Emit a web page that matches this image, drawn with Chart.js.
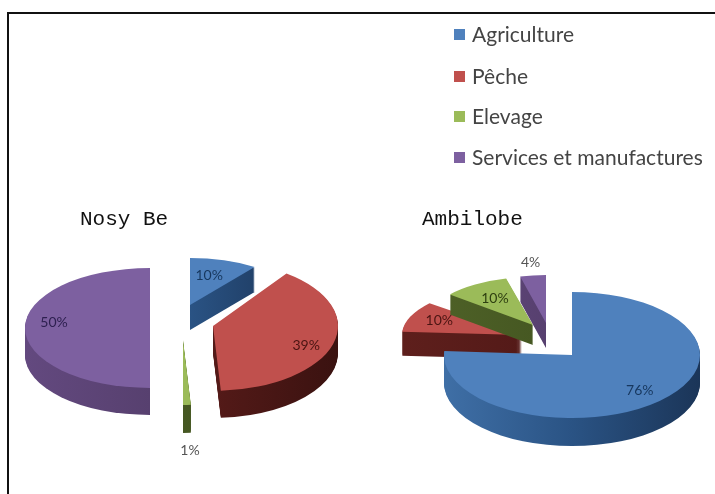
<!DOCTYPE html>
<html><head><meta charset="utf-8">
<script src="https://cdn.jsdelivr.net/npm/chart.js@4"></script>
<style>
html,body{margin:0;padding:0;background:#fff;overflow:hidden;width:715px;height:494px}
#frame{position:absolute;left:7px;top:12px;width:708px;height:482px;border-left:2px solid #111;border-top:2px solid #111;box-sizing:border-box}
canvas{position:absolute;top:0}
#wrap{position:absolute;left:0;top:0;width:715px;height:494px;filter:blur(.6px)}
#legend{position:absolute;left:454px;top:0;font-family:Lato,sans-serif;font-size:21px;color:#444;white-space:nowrap}
#legend div{position:absolute;left:18px;line-height:24px}
#legend i{position:absolute;left:-18px;top:7px;width:11px;height:11px}
</style></head><body>
<div id="wrap">
<div id="frame"></div>
<div style="position:absolute;left:0;top:0;width:360px;height:494px"><canvas id="c1"></canvas></div>
<div style="position:absolute;left:360px;top:0;width:355px;height:494px"><canvas id="c2"></canvas></div>
<div id="legend"></div>
</div>
<script>
// ---- data ----
const categories = ['Agriculture', 'Pêche', 'Elevage', 'Services et manufactures'];
const nosyBeValues = [10, 39, 1, 50];
const ambilobeValues = [76, 10, 10, 4];
const nosyBeTitle = 'Nosy Be';
const ambilobeTitle = 'Ambilobe';

// ---- styles ----
const topColors = ['#4f81bd', '#c0504d', '#9bbb59', '#7d60a0'];
const sideStops = [
  ['#3f6fa6', '#2a5384', '#1b3558'],
  ['#5e1f1c', '#541a18', '#3a1210'],
  ['#4f6228', '#465822', '#3c4c1c'],
  ['#63497f', '#57406f', '#3f2f55']
];
const BASE_R = 100;
const nosyStyle = {
  apex: [[190, 305], [213, 326], [183, 340], [150, 328]],
  rx: [110, 125, 125, 125], ry: [47, 65, 65, 60], depth: [25, 27, 28, 27],
  labelR: [62, 97, 222, 96], labelDy: [0, 6, 0, -6], order: [0, 3, 2, 1]
};
const ambiStyle = {
  apex: [[572, 355], [522, 335], [533, 325], [546, 323]],
  rx: [128, 120, 108, 104], ry: [63, 50, 48, 48], depth: [28, 24, 20, 25],
  labelR: [99, 89, 71, 123], labelDy: [-1, 2, 3, 0], order: [1, 2, 3, 0]
};

const slices3d = {
  id: 'slices3d',
  beforeDatasetDraw(chart, args, opts) {
    const ctx = chart.ctx, arcs = chart.getDatasetMeta(args.index).data, s = opts.style, ox = opts.originX;
    opts.style.order.forEach(i => {
      const a = arcs[i];
      ctx.save();
      ctx.translate(s.apex[i][0] - ox, s.apex[i][1]);
      ctx.scale(s.rx[i] / BASE_R, s.ry[i] / BASE_R);
      ctx.translate(-a.x, -a.y);
      const g = ctx.createLinearGradient(a.x - BASE_R, 0, a.x + BASE_R, 0);
      sideStops[i].forEach((c, k) => g.addColorStop(k / 2, c));
      ctx.fillStyle = g;
      const k = s.ry[i] / BASE_R;
      for (let d = s.depth[i]; d >= 1; d--) {
        ctx.beginPath();
        ctx.moveTo(a.x, a.y + d / k);
        ctx.arc(a.x, a.y + d / k, BASE_R, a.startAngle, a.endAngle);
        ctx.closePath();
        ctx.fill();
      }
      a.draw(ctx);
      ctx.restore();
    });
    // percentage labels along each slice's middle angle
    ctx.save();
    ctx.font = '14px Lato, sans-serif';
    ctx.textAlign = 'center'; ctx.textBaseline = 'middle';
    const vals = chart.data.datasets[args.index].data;
    arcs.forEach((a, i) => {
      const mid = (a.startAngle + a.endAngle) / 2, r = s.labelR[i];
      const x = s.apex[i][0] - ox + Math.cos(mid) * r;
      const y = s.apex[i][1] + Math.sin(mid) * r * 0.5 + s.labelDy[i];
      const outside = r > 110;
      ctx.fillStyle = outside ? '#555' : ['#17375e', '#4a1412', '#2e3f10', '#2e2050'][i];
      ctx.fillText(vals[i] + '%', x, y);
    });
    ctx.restore();
    return false;
  }
};

function makePie(id, originX, w, titleText, padLeft, padTop, values, style) {
  const cv = document.getElementById(id);
  cv.width = w; cv.height = 494; cv.style.width = w + 'px'; cv.style.height = '494px';
  return new Chart(cv, {
    type: 'pie',
    plugins: [slices3d],
    data: { labels: categories, datasets: [{ data: values, backgroundColor: topColors, borderWidth: 0, radius: BASE_R }] },
    options: {
      responsive: false, animation: false, devicePixelRatio: 1,
      layout: { padding: { left: padLeft, top: padTop } },
      plugins: {
        legend: { display: false }, tooltip: { enabled: false },
        title: {
          display: true, text: titleText, align: 'start', color: '#111', padding: 0,
          font: { family: '"Liberation Mono", monospace', size: 21, weight: 'normal' }
        },
        slices3d: { style, originX }
      }
    }
  });
}
makePie('c1', 0, 360, nosyBeTitle, 80, 207, nosyBeValues, nosyStyle);
makePie('c2', 360, 355, ambilobeTitle, 62, 207, ambilobeValues, ambiStyle);

const legendTops = [22, 64, 104, 145];
const legend = document.getElementById('legend');
categories.forEach((c, i) => {
  const d = document.createElement('div');
  d.style.top = legendTops[i] + 'px';
  d.textContent = c;
  const b = document.createElement('i');
  b.style.background = topColors[i];
  d.appendChild(b);
  legend.appendChild(d);
});
</script>
</body></html>
